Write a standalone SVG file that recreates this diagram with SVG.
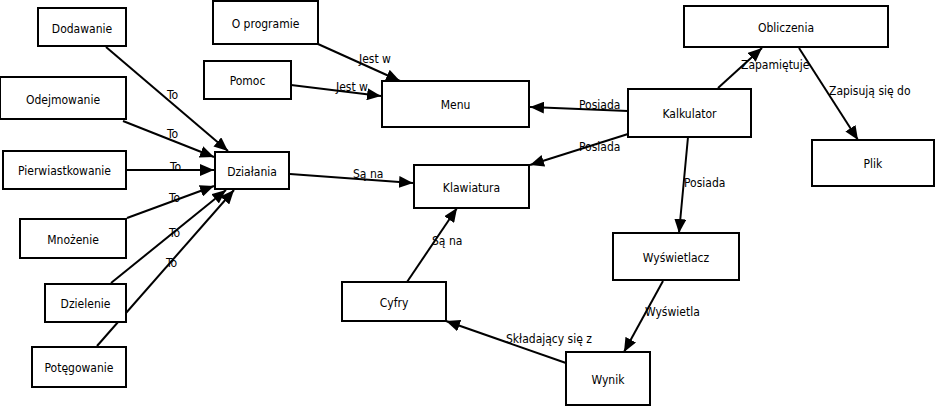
<svg xmlns="http://www.w3.org/2000/svg" width="935" height="406" viewBox="0 0 935 406">
<style>
.n rect{fill:#fff;stroke:#000;stroke-width:2}
text{font-family:"DejaVu Sans Condensed","DejaVu Sans",Verdana,sans-serif;font-stretch:condensed;font-size:12px;fill:#000}
.n text{text-anchor:middle}
.c line{stroke:#000;stroke-width:2;marker-end:url(#ah)}
</style>
<defs>
<marker id="ah" markerUnits="userSpaceOnUse" markerWidth="14" markerHeight="12" refX="14" refY="6" orient="auto" viewBox="0 0 14 12">
<path d="M0,0 L14,6 L0,12 z" fill="#000"/>
</marker>
</defs>
<rect width="935" height="406" fill="#fff"/>
<g class="c">
<line x1="106" y1="47" x2="228" y2="151"/>
<line x1="123" y1="121" x2="214" y2="157"/>
<line x1="126" y1="170" x2="214" y2="170"/>
<line x1="127" y1="218" x2="214" y2="186"/>
<line x1="111" y1="283" x2="226" y2="190"/>
<line x1="97" y1="346" x2="234" y2="190"/>
<line x1="318" y1="44" x2="400" y2="81"/>
<line x1="291" y1="85" x2="381" y2="96"/>
<line x1="290" y1="174" x2="413" y2="183"/>
<line x1="628" y1="111" x2="530" y2="107"/>
<line x1="628" y1="134" x2="530" y2="165"/>
<line x1="688" y1="137" x2="679" y2="233"/>
<line x1="718" y1="88" x2="762" y2="48"/>
<line x1="799" y1="48" x2="858" y2="140"/>
<line x1="663" y1="281" x2="624" y2="352"/>
<line x1="566" y1="363" x2="446" y2="321"/>
<line x1="407" y1="282" x2="457" y2="208"/>
<text x="167" y="99">To</text>
<text x="167" y="138">To</text>
<text x="170" y="171">To</text>
<text x="169" y="202">To</text>
<text x="169" y="237">To</text>
<text x="166" y="267">To</text>
<text x="359" y="63">Jest w</text>
<text x="336" y="91">Jest w</text>
<text x="353" y="178">Są na</text>
<text x="579" y="109">Posiada</text>
<text x="579" y="151">Posiada</text>
<text x="684" y="187">Posiada</text>
<text x="741" y="69">Zapamiętuje</text>
<text x="829" y="95">Zapisują się do</text>
<text x="645" y="316">Wyświetla</text>
<text x="506" y="343">Składający się z</text>
<text x="432" y="245">Są na</text>
</g>
<g id="dodawanie" class="n"><rect x="38" y="8" width="88" height="38"/><text x="82" y="33">Dodawanie</text></g>
<g id="odejmowanie" class="n"><rect x="0" y="77" width="126" height="42"/><text x="63" y="104">Odejmowanie</text></g>
<g id="pierwiastkowanie" class="n"><rect x="3" y="151" width="123" height="38"/><text x="64.5" y="175">Pierwiastkowanie</text></g>
<g id="mnozenie" class="n"><rect x="20" y="219" width="106" height="39"/><text x="73" y="243.5">Mnożenie</text></g>
<g id="dzielenie" class="n"><rect x="45" y="284" width="81" height="38"/><text x="85.5" y="308">Dzielenie</text></g>
<g id="potegowanie" class="n"><rect x="32" y="347" width="94" height="40"/><text x="79" y="372">Potęgowanie</text></g>
<g id="dzialania" class="n"><rect x="215" y="152" width="74" height="37"/><text x="252" y="175.5">Działania</text></g>
<g id="oprogramie" class="n"><rect x="213" y="1" width="105" height="43"/><text x="265.5" y="27.5">O programie</text></g>
<g id="pomoc" class="n"><rect x="204" y="61" width="87" height="38"/><text x="247.5" y="85">Pomoc</text></g>
<g id="menu" class="n"><rect x="382" y="81" width="147" height="46"/><text x="455.5" y="109">Menu</text></g>
<g id="klawiatura" class="n"><rect x="414" y="165" width="115" height="43"/><text x="471.5" y="191.5">Klawiatura</text></g>
<g id="obliczenia" class="n"><rect x="684" y="6" width="204" height="41"/><text x="786" y="31.5">Obliczenia</text></g>
<g id="kalkulator" class="n"><rect x="628" y="89" width="123" height="48"/><text x="689.5" y="118">Kalkulator</text></g>
<g id="plik" class="n"><rect x="812" y="140" width="122" height="46"/><text x="873" y="168">Plik</text></g>
<g id="wyswietlacz" class="n"><rect x="613" y="233" width="126" height="47"/><text x="676" y="261.5">Wyświetlacz</text></g>
<g id="cyfry" class="n"><rect x="342" y="282" width="104" height="39"/><text x="394" y="306.5">Cyfry</text></g>
<g id="wynik" class="n"><rect x="566" y="352" width="84" height="53"/><text x="608" y="383.5">Wynik</text></g>
</svg>
